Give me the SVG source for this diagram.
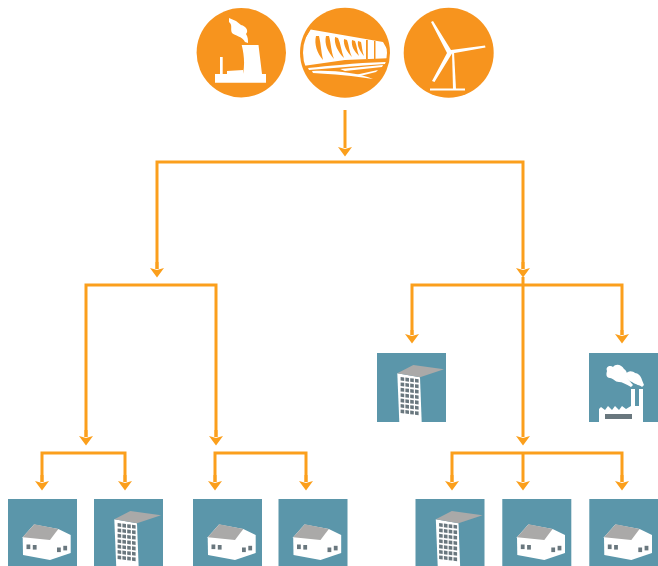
<svg xmlns="http://www.w3.org/2000/svg" xmlns:xlink="http://www.w3.org/1999/xlink" width="658" height="566" viewBox="0 0 658 566">
<style>
.tile{fill:#5b96aa}
.src{fill:#f7941e}
.w{fill:#fff}
.roof{fill:#aaa9a8}
.win{fill:#69777e}
.conn{fill:none;stroke:#fb9f1c;stroke-width:3;marker-end:url(#arrow)}
.bar{fill:none;stroke:#fb9f1c;stroke-width:3}
</style>
<defs>
<marker id="arrow" markerUnits="userSpaceOnUse" viewBox="-1 -7.500 10 15" refX="0" refY="0" markerWidth="10" markerHeight="15" orient="auto"><path d="M-1,-7L8.500,0L-1,7L1,0z" fill="#fb9f1c"/></marker>
<clipPath id="dam"><circle cx="345" cy="52.7" r="42"/></clipPath>
<g id="house">
<rect class="tile" width="69" height="69"/>
<path class="w" d="M14.700,38.300L26,25.500L50.300,30L62.700,36V54L42,61L15,56z"/>
<path class="roof" d="M26.300,25.300L50.300,30L42,41L14.700,38.300z"/>
<g class="win"><rect x="18.500" y="45.500" width="3.800" height="4.600"/><rect x="24.800" y="46" width="3.800" height="4.600"/><rect x="49" y="48.500" width="3.800" height="4.600"/><rect x="55.300" y="46.800" width="3.800" height="4.600"/></g>
</g>
<g id="winrow" class="win"><rect width="3.600" height="3.600"/><rect x="4.800" width="3.600" height="3.600"/><rect x="9.600" width="3.600" height="3.600"/><rect x="14.400" width="3.600" height="3.600"/></g>
<g id="tower">
<rect class="tile" width="69" height="69"/>
<path class="w" d="M20.300,20.300L43,24.300L44.700,69H22.300z"/>
<path class="roof" d="M36.300,12L67,16.300L43,24.300L20.300,20.300z"/>
<g transform="translate(23.600,24) skewY(7)">
<use xlink:href="#winrow" href="#winrow" y="0"/><use xlink:href="#winrow" href="#winrow" y="5.400"/><use xlink:href="#winrow" href="#winrow" y="10.800"/><use xlink:href="#winrow" href="#winrow" y="16.200"/><use xlink:href="#winrow" href="#winrow" y="21.600"/><use xlink:href="#winrow" href="#winrow" y="27"/><use xlink:href="#winrow" href="#winrow" y="32.400"/>
</g>
</g>
</defs>
<g id="connectors">
<path class="conn" d="M345,110V148"/>
<path class="bar" d="M157,269V162H523V269"/>
<path class="conn" d="M157,262V269"/><path class="conn" d="M523,262V269"/>
<path class="bar" d="M86,437V285H216V437"/>
<path class="conn" d="M86,430V437"/><path class="conn" d="M216,430V437"/>
<path class="bar" d="M412,335V285H622V335"/>
<path class="conn" d="M412,330V335"/><path class="conn" d="M622,330V335"/>
<path class="conn" d="M523,277V437"/>
<path class="bar" d="M42,482V453H125V482"/>
<path class="conn" d="M42,475V482"/><path class="conn" d="M125,475V482"/>
<path class="bar" d="M215,482V453H306V482"/>
<path class="conn" d="M215,475V482"/><path class="conn" d="M306,475V482"/>
<path class="bar" d="M452,482V453H622V482"/>
<path class="conn" d="M452,475V482"/><path class="conn" d="M523,453V482"/><path class="conn" d="M622,475V482"/>
</g>
<g id="source-plant">
<circle class="src" cx="241.300" cy="52.700" r="44.700"/>
<path class="w" d="M215,74H266V82.700H215z"/>
<path class="w" d="M241.700,45H258.500L262,74H243C245,64 244,54 241.700,45z"/>
<path class="w" d="M220,57H222.700V74H220z"/>
<path class="w" d="M227,71L243,70V74H227z"/>
<path class="w" d="M229,18L236,21L241,25C246,26 249,31 246,34C248,37 248,40 248,43L245,42C242,36 235,36 232,33C230,29 233,25 229,22z"/>
</g>
<g id="source-dam">
<circle class="src" cx="345" cy="52.700" r="45"/>
<g clip-path="url(#dam)">
<path class="w" d="M310.700,29.500L383,42L392,58L345,60L303,66L298,50z"/>
<g class="src">
<path d="M316,36C314,44 317,53 323,60C321,52 321,44 319,36z"/>
<path d="M326,36C324,44 328,52 334,59C331,51 331,43 329,36z"/>
<path d="M335,37C334,44 338,52 344,58C341,51 341,44 338,38z"/>
<path d="M344,39C343,45 347,52 352,57C349,51 349,45 347,40z"/>
<path d="M352,40C351,46 354,51 359,56C357,51 357,46 355,41z"/>
<path d="M358,41C357,46 360,51 364,56C362,51 362,46 361,42z"/>
<path d="M366,40H367.800V59H366zM374,41H375.500V59H374z"/>
</g>
<path class="w" d="M308,68C330,66 352,63 386,62L385,64C355,66 335,68 309,70z"/>
<path class="w" d="M312,71C335,70 358,73 373,79C355,76 332,74 313,73z"/>
<path class="w" d="M340,69L383,65L382,67L345,71z"/>
<path class="w" d="M355,75L378,70L376,72L360,76z"/>
</g>
</g>
<g id="source-wind">
<circle class="src" cx="448.700" cy="52.700" r="45"/>
<path class="w" d="M431,22L433,21L451,50L485,45.500L485.500,47.500L452,53.500L434.500,82L432,81L447,53L446,51z"/>
<path class="w" d="M452,52L454,52L456,89H453z"/>
<rect class="w" x="430" y="88.500" width="35" height="2"/>
</g>
<g id="office-mid"><use xlink:href="#tower" href="#tower" x="377" y="353"/></g>
<g id="factory">
<rect class="tile" x="589" y="353" width="69" height="69"/>
<path class="w" d="M599,422V409L601,407L605,410L608,406L612,410L615,406L619,410L622,406L626,409L631,406V389H635V406H639V389H643V422z"/>
<path class="w" d="M607,371C605,366 611,365 613,367C616,363 622,365 624,369C627,371 628,375 627,378L633,385L631,387C626,384 622,382 619,382C615,382 613,378 610,378C606,378 606,374 607,371z"/>
<path class="w" d="M626,374C628,370 633,371 635,373C638,373 641,376 642,380L644,385L642,387C640,385 636,385 632,382C629,381 625,378 626,374z"/>
<path class="win" d="M605,414H632V419H605z"/>
</g>
<g id="house-1"><use xlink:href="#house" href="#house" x="8" y="499"/></g>
<g id="office-1"><use xlink:href="#tower" href="#tower" x="94" y="499"/></g>
<g id="house-2"><use xlink:href="#house" href="#house" x="193" y="499"/></g>
<g id="house-3"><use xlink:href="#house" href="#house" x="278.500" y="499"/></g>
<g id="office-2"><use xlink:href="#tower" href="#tower" x="415.500" y="499"/></g>
<g id="house-4"><use xlink:href="#house" href="#house" x="502.300" y="499"/></g>
<g id="house-5"><use xlink:href="#house" href="#house" x="589.300" y="499"/></g>
</svg>
